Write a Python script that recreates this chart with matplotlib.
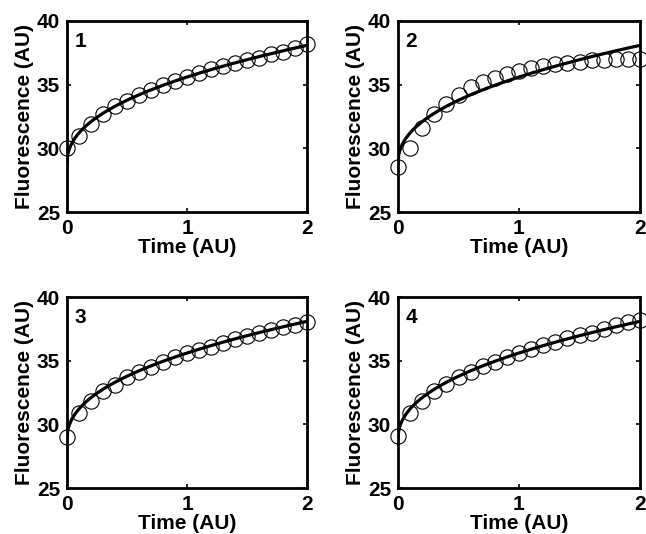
import numpy as np
import matplotlib
matplotlib.use("Agg")
import matplotlib.pyplot as plt

plt.rcParams['font.family'] = ['Liberation Sans', 'DejaVu Sans']
plt.rcParams['font.weight'] = 'bold'

# Sampling times
time = [0.0, 0.1, 0.2, 0.3, 0.4, 0.5, 0.6, 0.7, 0.8, 0.9, 1.0,
        1.1, 1.2, 1.3, 1.4, 1.5, 1.6, 1.7, 1.8, 1.9, 2.0]

# Measured fluorescence for each of the four runs
run1 = [30.0, 31.0, 31.9, 32.7, 33.3, 33.7, 34.2, 34.6, 35.0, 35.3, 35.6,
        35.9, 36.2, 36.5, 36.7, 36.9, 37.1, 37.4, 37.6, 37.9, 38.2]
run2 = [28.5, 30.0, 31.6, 32.7, 33.5, 34.2, 34.8, 35.2, 35.5, 35.8, 36.1,
        36.3, 36.5, 36.6, 36.7, 36.8, 36.9, 36.9, 37.0, 37.0, 37.0]
run3 = [29.0, 30.9, 31.8, 32.6, 33.1, 33.7, 34.1, 34.5, 34.9, 35.3, 35.6,
        35.8, 36.1, 36.4, 36.7, 36.9, 37.2, 37.4, 37.65, 37.8, 38.0]
run4 = [29.1, 30.9, 31.8, 32.6, 33.2, 33.7, 34.1, 34.55, 34.9, 35.26, 35.6,
        35.9, 36.2, 36.45, 36.8, 37.0, 37.2, 37.5, 37.8, 38.0, 38.2]
runs = [run1, run2, run3, run4]
panel_labels = ['1', '2', '3', '4']

# Power-law fit F(t) = offset + amp * t**expo shared by all runs
fit_offset = 28.8
fit_amp = 6.8
fit_expo = 0.45

x_ticks = [0, 1, 2]
y_ticks = [25, 30, 35, 40]

W, H = 646, 534
fig = plt.figure(figsize=(W / 100, H / 100), dpi=100)

# axes boxes in pixels: (left, top, right, bottom)
boxes = [(67, 21, 307, 212), (398, 21, 640, 212),
         (67, 297, 307, 488), (398, 297, 640, 488)]

t_fit = np.linspace(0, 2, 400)
y_fit = fit_offset + fit_amp * t_fit ** fit_expo

for (l, t, r, b), y, lab in zip(boxes, runs, panel_labels):
    ax = fig.add_axes([l / W, 1 - b / H, (r - l) / W, (b - t) / H])
    ax.plot(t_fit, y_fit, color='black', lw=2.3, zorder=3)
    ax.plot(time, y, 'o', mfc='none', mec='black', mew=0.8, ms=11,
            clip_on=False, zorder=2)
    ax.set_xlim(0, 2)
    ax.set_ylim(25, 40)
    ax.set_xticks(x_ticks)
    ax.set_yticks(y_ticks)
    ax.tick_params(direction='in', length=3, width=1.2, top=True, right=True,
                   labelsize=15, pad=5)
    for tl in ax.get_xticklabels() + ax.get_yticklabels():
        tl.set_fontweight('bold')
    for sp in ax.spines.values():
        sp.set_linewidth(2.0)
    ax.set_xlabel('Time (AU)', fontsize=15, fontweight='bold', labelpad=0)
    ax.set_ylabel('Fluorescence (AU)', fontsize=15, fontweight='bold', labelpad=2)
    ax.text(0.03, 0.94, lab, transform=ax.transAxes, fontsize=15,
            fontweight='bold', ha='left', va='top')

fig.savefig('out.png', dpi=100)
